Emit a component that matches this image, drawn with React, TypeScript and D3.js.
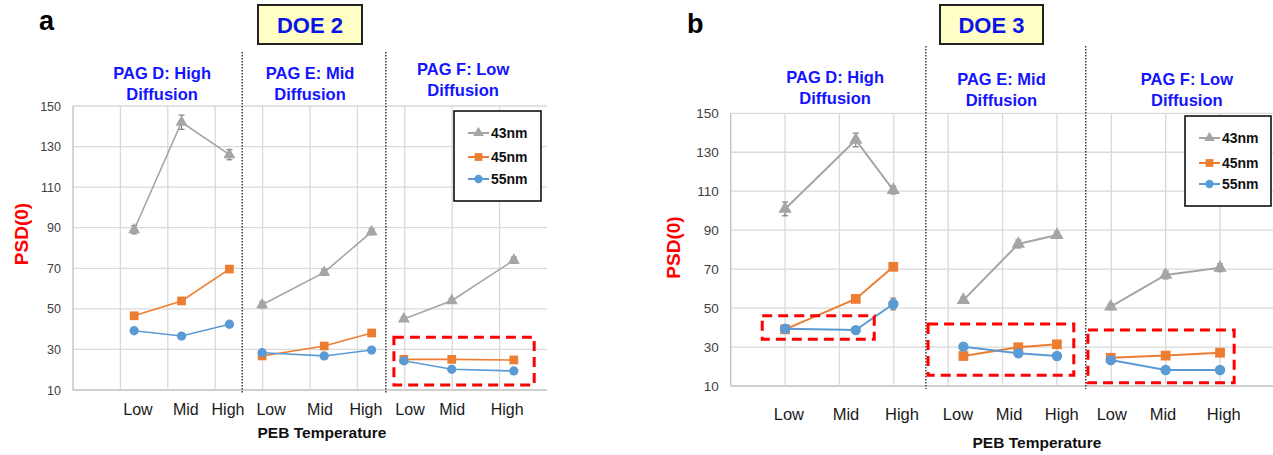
import React from 'react';
import * as d3 from 'd3';

// categories and groups
const categories = ['Low', 'Mid', 'High'];
const pagTitles = [['PAG D: High', 'Diffusion'], ['PAG E: Mid', 'Diffusion'], ['PAG F: Low', 'Diffusion']];
const seriesNames = ['43nm', '45nm', '55nm'];
const yTicks = [10, 30, 50, 70, 90, 110, 130, 150];

// DOE 2 (panel a) - x in grid units (0..10), 3 points per PAG group
const doe2X = [1.29, 2.29, 3.3, 3.99, 5.3, 6.3, 6.98, 7.99, 9.3];
const doe2LabelX = [1.37, 2.38, 3.27, 4.18, 5.21, 6.18, 7.11, 8.0, 9.16];
const doe2_43 = [89, 142, 126, 52, 68, 88, 45, 54, 74];
const doe2_45 = [46.6, 53.9, 69.6, 26.8, 31.7, 38.1, 25.1, 25.1, 24.8];
const doe2_55 = [39.2, 36.6, 42.4, 28.4, 26.8, 29.7, 24.4, 20.2, 19.4];
const doe2Err43 = [2, 3.5, 2.5, 1.5, 1.5, 1.5, 1, 1, 1.5];
const doe2Err45 = [0.8, 0.8, 0.8, 0.8, 0.8, 0.8, 0.5, 0.5, 0.5];
const doe2Err55 = [0.8, 0.8, 0.8, 0.8, 0.8, 0.8, 0.5, 0.5, 0.5];
const doe2Separators = [3.57, 6.6];
const doe2Boxes = [[6.77, 9.73, 12.5, 36]];

// DOE 3 (panel b)
const doe3X = [1.0, 2.3, 2.99, 4.28, 5.29, 6.0, 6.99, 8.0, 9.0];
const doe3LabelX = [1.07, 2.12, 3.15, 4.18, 5.12, 6.09, 7.01, 7.95, 9.07];
const doe3_43 = [100.9, 136.3, 110.6, 54.1, 82.9, 87.5, 50.7, 67, 70.7];
const doe3_45 = [39.1, 54.7, 71.2, 25.4, 29.9, 31.4, 24.5, 25.6, 27.1];
const doe3_55 = [39.4, 38.7, 52.1, 30.2, 26.8, 25.4, 23.3, 18.2, 18.2];
const doe3Err43 = [3.5, 3.5, 2, 1.5, 2, 1.5, 1.5, 2, 2];
const doe3Err45 = [1, 1, 1.5, 0.8, 0.8, 0.8, 0.6, 0.6, 0.6];
const doe3Err55 = [1, 1, 3, 0.8, 0.8, 0.8, 0.6, 0.6, 0.6];
const doe3Separators = [3.59, 6.53];
const doe3Boxes = [[0.58, 2.64, 34, 46.1], [3.63, 6.31, 15.5, 41.8], [6.57, 9.26, 11.7, 38.7]];

const colors = ['#a5a5a5', '#ed7d31', '#5b9bd5'];
const symbols = [d3.symbolTriangle, d3.symbolSquare, d3.symbolCircle];
const FONT = 'Liberation Sans, Arial, sans-serif';

const panelA = {
  letter: 'a', letterX: 39, letterY: 30,
  doe: 'DOE 2', doeX: 258, doeY: 5, doeW: 104, doeH: 39,
  left: 73, right: 547, top: 106, bottom: 390,
  tickSize: 12.5, catSize: 16, catY: 415, axisX: 322, axisY: 438,
  ylabX: 21, ylabY: 234,
  titleX: [1.88, 5.0, 8.23], titleY: [79, 79, 75], sepTop: 52, sepBottom: 393,
  legX: 454, legY: 111, legW: 87, legH: 90, legRows: [133, 157, 179],
  mk: 1, lw: 1.6,
  xs: doe2X, labelX: doe2LabelX, values: [doe2_43, doe2_45, doe2_55], errs: [doe2Err43, doe2Err45, doe2Err55],
  seps: doe2Separators, boxes: doe2Boxes,
};

const panelB = {
  letter: 'b', letterX: 687, letterY: 33,
  doe: 'DOE 3', doeX: 940, doeY: 5, doeW: 103, doeH: 39,
  left: 730.7, right: 1274.4, top: 113.3, bottom: 386,
  tickSize: 13.5, catSize: 16.5, catY: 420, axisX: 1037, axisY: 448,
  ylabX: 673, ylabY: 247.5,
  titleX: [1.92, 4.98, 8.39], titleY: [83, 85, 85], sepTop: 46, sepBottom: 389,
  legX: 1185, legY: 116, legW: 86, legH: 90, legRows: [138, 163, 184],
  mk: 1.12, lw: 2,
  xs: doe3X, labelX: doe3LabelX, values: [doe3_43, doe3_45, doe3_55], errs: [doe3Err43, doe3Err45, doe3Err55],
  seps: doe3Separators, boxes: doe3Boxes,
};

const markerSize = [62, 76, 68];

function Panel({ p }: { p: any }) {
  const x = d3.scaleLinear().domain([0, 10]).range([p.left, p.right]);
  const y = d3.scaleLinear().domain([10, 150]).range([p.bottom, p.top]);
  const groups = [0, 1, 2];

  return (
    <g>
      <text x={p.letterX} y={p.letterY} fontFamily={FONT} fontWeight="bold" fontSize={27} fill="#000">{p.letter}</text>
      <rect x={p.doeX} y={p.doeY} width={p.doeW} height={p.doeH} fill="#ffffc6" stroke="#222" strokeWidth={2} />
      <text x={p.doeX + p.doeW / 2} y={p.doeY + p.doeH / 2 + 8} textAnchor="middle" fontFamily={FONT} fontWeight="bold" fontSize={22} fill="#0a14e6">{p.doe}</text>

      {/* grid */}
      {yTicks.map((t) => (
        <line key={'h' + t} x1={p.left} x2={p.right} y1={y(t)} y2={y(t)} stroke={t === 10 ? '#bfbfbf' : '#d9d9d9'} strokeWidth={1.3} />
      ))}
      {d3.range(1, 10).map((i) => (
        <line key={'v' + i} x1={x(i)} x2={x(i)} y1={p.top} y2={p.bottom} stroke="#d9d9d9" strokeWidth={1.3} />
      ))}
      <line x1={p.left} x2={p.left} y1={p.top} y2={p.bottom} stroke="#bfbfbf" strokeWidth={1.3} />

      {yTicks.map((t) => (
        <text key={'t' + t} x={p.left - 12} y={y(t) + 4.5} textAnchor="end" fontFamily={FONT} fontSize={p.tickSize} fill="#404040">{t}</text>
      ))}

      {/* separators */}
      {p.seps.map((s: number, i: number) => (
        <line key={'s' + i} x1={x(s)} x2={x(s)} y1={p.sepTop} y2={p.sepBottom} stroke="#222" strokeWidth={1.3} strokeDasharray="1.5,1.5" />
      ))}

      {/* group titles */}
      {pagTitles.map((tt, g) => (
        <text key={'g' + g} x={x(p.titleX[g])} y={p.titleY[g]} textAnchor="middle" fontFamily={FONT} fontWeight="bold" fontSize={16.5} fill="#1414ff">
          <tspan x={x(p.titleX[g])} dy={0}>{tt[0]}</tspan>
          <tspan x={x(p.titleX[g])} dy={21}>{tt[1]}</tspan>
        </text>
      ))}

      {/* category labels */}
      {p.labelX.map((lx: number, i: number) => (
        <text key={'c' + i} x={x(lx)} y={p.catY} textAnchor="middle" fontFamily={FONT} fontSize={p.catSize} fill="#1a1a1a">{categories[i % 3]}</text>
      ))}
      <text x={p.axisX} y={p.axisY} textAnchor="middle" fontFamily={FONT} fontWeight="bold" fontSize={15.5} fill="#111">PEB Temperature</text>
      <text transform={`translate(${p.ylabX + 7},${p.ylabY}) rotate(-90)`} textAnchor="middle" fontFamily={FONT} fontWeight="bold" fontSize={19} fill="#ff0000">PSD(0)</text>

      {/* series */}
      {p.values.map((vals: number[], s: number) => (
        <g key={'sr' + s}>
          {groups.map((g) => {
            const idx = [g * 3, g * 3 + 1, g * 3 + 2];
            const path = d3.line<number>().x((i) => x(p.xs[i])).y((i) => y(vals[i]))(idx);
            return <path key={g} d={path || ''} fill="none" stroke={colors[s]} strokeWidth={p.lw} />;
          })}
          {vals.map((v, i) => (
            <g key={i} stroke="#7f7f7f" strokeWidth={1.2}>
              <line x1={x(p.xs[i])} x2={x(p.xs[i])} y1={y(v - p.errs[s][i])} y2={y(v + p.errs[s][i])} />
              <line x1={x(p.xs[i]) - 3} x2={x(p.xs[i]) + 3} y1={y(v + p.errs[s][i])} y2={y(v + p.errs[s][i])} />
              <line x1={x(p.xs[i]) - 3} x2={x(p.xs[i]) + 3} y1={y(v - p.errs[s][i])} y2={y(v - p.errs[s][i])} />
            </g>
          ))}
          {vals.map((v, i) => (
            <path key={'m' + i} transform={`translate(${x(p.xs[i])},${y(v)})`}
              d={d3.symbol().type(symbols[s]).size(markerSize[s] * p.mk * p.mk)() || ''} fill={colors[s]} />
          ))}
        </g>
      ))}

      {/* highlight boxes */}
      {p.boxes.map((b: number[], i: number) => (
        <rect key={'b' + i} x={x(b[0])} y={y(b[3])} width={x(b[1]) - x(b[0])} height={y(b[2]) - y(b[3])}
          fill="none" stroke="#ff0000" strokeWidth={3} strokeDasharray="10,6" />
      ))}

      {/* legend */}
      <rect x={p.legX} y={p.legY} width={p.legW} height={p.legH} fill="#fff" stroke="#000" strokeWidth={1.5} />
      {seriesNames.map((n, s) => (
        <g key={'l' + s}>
          <line x1={p.legX + 14} x2={p.legX + 35} y1={p.legRows[s]} y2={p.legRows[s]} stroke={colors[s]} strokeWidth={2} />
          <path transform={`translate(${p.legX + 24.5},${p.legRows[s]})`} d={d3.symbol().type(symbols[s]).size(markerSize[s] * 0.8)() || ''} fill={colors[s]} />
          <text x={p.legX + 37} y={p.legRows[s] + 5} fontFamily={FONT} fontWeight="bold" fontSize={14} fill="#111">{n}</text>
        </g>
      ))}
    </g>
  );
}

export default function App() {
  return (
    <svg width={1273} height={455} style={{ position: 'absolute', left: 0, top: 0, background: '#fff' }}>
      <rect width={1273} height={455} fill="#fff" />
      <Panel p={panelA} />
      <Panel p={panelB} />
    </svg>
  );
}
